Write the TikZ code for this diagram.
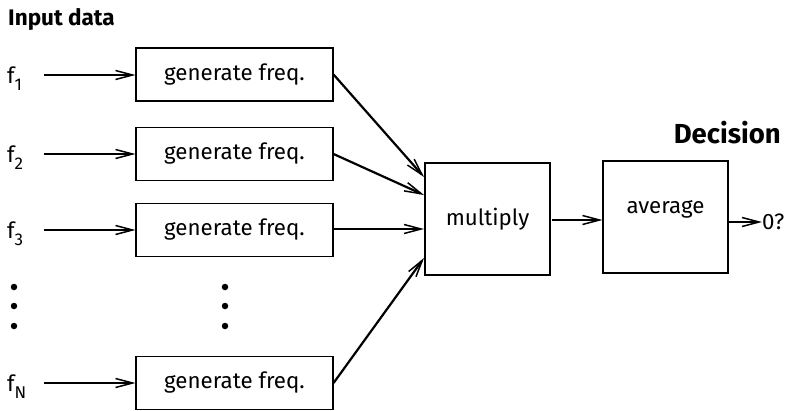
\documentclass[tikz,border=0pt]{standalone}
\usepackage{fontspec}
\setmainfont{Fira Sans}
\usetikzlibrary{arrows.meta}
\newcommand{\mysub}[1]{\raisebox{-0.32em}{\fontsize{17}{17}\selectfont #1}}
\begin{document}
\begin{tikzpicture}[x=1pt,y=-1pt,
  every node/.style={font=\fontsize{22.3}{26}\selectfont},
  box/.style={draw, line width=1.1pt, inner sep=0pt},
  gen/.style={box, minimum width=197pt, minimum height=53pt},
  big/.style={box, minimum width=125pt, minimum height=112pt},
  conn/.style={line width=2.2pt, -{Straight Barb[length=17pt,width=9pt,line width=1.5pt]}},
  lab/.style={anchor=west, inner sep=0pt},
  dot/.style={fill, circle, inner sep=0pt, minimum size=6.5pt}
]
\useasboundingbox (0,0) rectangle (801,410);
\node[lab, font=\bfseries\fontsize{22.5}{26}\selectfont, anchor=base west] (title) at (8,25) {Input data};
\node[lab, font=\bfseries\fontsize{27.5}{32}\selectfont, anchor=base east] (dec) at (781,143) {Decision};

\node[gen] (g1) at (234.5,74.5) {generate freq.};
\node[gen] (g2) at (234.5,154) {generate freq.};
\node[gen] (g3) at (234.5,230) {generate freq.};
\node[gen] (gN) at (234.5,383) {generate freq.};

\node[lab] (f1) at (7,79) {f\mysub{1}};
\node[lab] (f2) at (7,158) {f\mysub{2}};
\node[lab] (f3) at (7,234) {f\mysub{3}};
\node[lab] (fN) at (7,387) {f\mysub{N}};

\coordinate (s1) at (44,75);
\coordinate (s2) at (44,154);
\coordinate (s3) at (44,230);
\coordinate (sN) at (44,383);
\draw[conn] (s1) -- (g1.west |- s1);
\draw[conn] (s2) -- (g2.west |- s2);
\draw[conn] (s3) -- (g3.west |- s3);
\draw[conn] (sN) -- (gN.west |- sN);

\node[dot] (d1) at (14,287) {};
\node[dot] (d2) at (14,306) {};
\node[dot] (d3) at (14,326) {};
\node[dot] (e1) at (225,287) {};
\node[dot] (e2) at (225,306) {};
\node[dot] (e3) at (225,326) {};

\node[big] (mul) at (487.5,219) {multiply};
\node[big, text depth=20pt] (avg) at (665.5,217) {average};
\node[lab] (out) at (762,222) {0?};

\coordinate (m1) at (424,177);
\coordinate (m2) at (424,195);
\coordinate (m3) at (424,229);
\coordinate (mN) at (424,258);
\draw[conn] (g1.east) -- (m1);
\draw[conn] (g2.east) -- (m2);
\draw[conn] (g3.east |- m3) -- (m3);
\draw[conn] (gN.east) -- (mN);

\coordinate (a1) at (552,220);
\draw[conn] (a1) -- (avg.west |- a1);
\draw[conn] (avg.east |- out) -- (out.west);
\end{tikzpicture}
\end{document}
